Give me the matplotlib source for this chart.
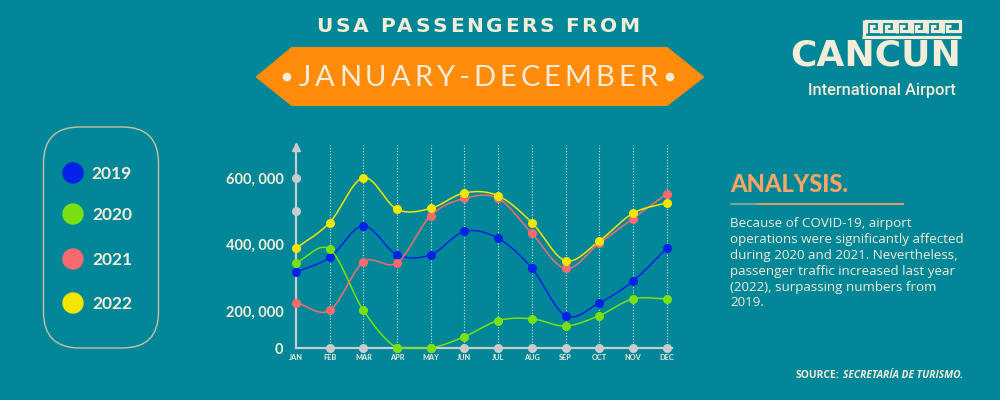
import numpy as np
import matplotlib
matplotlib.use("Agg")
import matplotlib.pyplot as plt
from matplotlib.patches import FancyBboxPatch, Polygon, Circle

# ---------------- data ----------------
months = ["JAN", "FEB", "MAR", "APR", "MAY", "JUN", "JUL", "AUG", "SEP", "OCT", "NOV", "DEC"]
years = ["2019", "2020", "2021", "2022"]
p2019 = [316000, 360000, 455000, 368000, 368000, 438000, 417000, 328000, 175000, 224000, 289000, 387000]
p2020 = [344000, 384000, 202000, 0, 0, 61000, 148000, 158000, 119000, 175000, 236000, 236000]
p2021 = [225000, 202000, 346000, 344000, 486000, 538000, 538000, 432000, 327000, 402000, 477000, 552000]
p2022 = [387000, 465000, 601000, 505000, 508000, 555000, 546000, 465000, 350000, 409000, 493000, 525000]
ytick_values = [0, 200000, 400000, 600000]
ytick_labels = ["0", "200, 000", "400, 000", "600, 000"]
axis_dot_values = [500000, 600000]

series = [p2019, p2020, p2021, p2022]
colors = ["#0522E6", "#79E012", "#F76B6E", "#F3E600"]

BG = "#018798"
CREAM = "#F3ECD8"
ORANGE = "#FF8B0B"
GREY = "#C9CCCC"

# piecewise scale used by the infographic's y axis
_kv = np.array([-1e6, 0, 200000, 400000, 600000, 2e6])
_kp = np.array([-185.0, 0.0, 37.0, 104.0, 170.0, 632.0])
def fwd(v):
    return np.interp(v, _kv, _kp)
def inv(p):
    return np.interp(p, _kp, _kv)

def catmull(xs, ys, n=30):
    xs = np.asarray(xs, float); ys = np.asarray(ys, float)
    P = np.column_stack([xs, ys])
    P = np.vstack([2 * P[0] - P[1], P, 2 * P[-1] - P[-2]])
    out = []
    for i in range(1, len(P) - 2):
        p0, p1, p2, p3 = P[i - 1], P[i], P[i + 1], P[i + 2]
        t = np.linspace(0, 1, n, endpoint=False)[:, None]
        seg = 0.5 * ((2 * p1) + (-p0 + p2) * t + (2 * p0 - 5 * p1 + 4 * p2 - p3) * t ** 2
                     + (-p0 + 3 * p1 - 3 * p2 + p3) * t ** 3)
        out.append(seg)
    out.append(P[-2][None, :])
    out = np.vstack(out)
    return out[:, 0], out[:, 1]

fig = plt.figure(figsize=(10, 4), dpi=100, facecolor=BG)

# overlay axes in pixel coordinates for decorations
ov = fig.add_axes([0, 0, 1, 1], zorder=0)
ov.set_xlim(0, 1000); ov.set_ylim(400, 0); ov.axis("off")
ov.set_facecolor(BG)

def spaced(ax, xc, y, s, sp, **kw):
    r = fig.canvas.get_renderer()
    fs = kw.get("fontsize", 10)
    ws = []
    objs = []
    for ch in s:
        if ch == " ":
            ws.append(fs * 100 / 72 * 0.3); objs.append(None); continue
        t = ax.text(0, y, ch, ha="left", va="center", zorder=5, **kw)
        bb = t.get_window_extent(r)
        ws.append(bb.width); objs.append(t)
    total = sum(ws) + sp * (len(s) - 1)
    x = xc - total / 2
    for w, t in zip(ws, objs):
        if t is not None:
            t.set_x(x)
        x += w + sp

# ---------- title ----------
spaced(ov, 478, 26, "USA PASSENGERS FROM", 2.6, fontsize=14.5, fontweight="heavy",
       family="DejaVu Sans", color=CREAM)

ban = Polygon([[257, 77], [292, 48], [667, 48], [703, 77], [667, 105], [292, 105]],
              closed=True, facecolor=ORANGE, edgecolor=ORANGE, lw=1.5, joinstyle="round",
              zorder=1)
ov.add_patch(ban)
spaced(ov, 478, 78, "JANUARY-DECEMBER", 4.0, fontsize=21, fontweight="normal",
       family="Lato", color=CREAM)
ov.add_patch(Circle((287, 77), 3.6, color=CREAM, zorder=5))
ov.add_patch(Circle((670, 77), 3.6, color=CREAM, zorder=5))

# ---------- logo ----------
lw_k = 2.3
ov.plot([862, 961], [36.5, 36.5], color=CREAM, lw=lw_k, solid_capstyle="butt")
ov.plot([863.5, 863.5], [20, 37], color=CREAM, lw=lw_k, solid_capstyle="butt")
for i in range(6):
    x0 = 866 + i * 15.3
    w = 12.5 if i < 5 else 17
    xs = [x0, x0, x0 + w, x0 + w, x0 + 4.5, x0 + 4.5, x0 + 8.5]
    ys = [33, 21, 21, 31, 31, 26, 26]
    ov.plot(xs, ys, color=CREAM, lw=lw_k, solid_joinstyle="miter", solid_capstyle="butt")
ov.text(876, 56, "CANCUN", fontsize=26, fontweight="bold", family="DejaVu Sans",
        color=CREAM, ha="center", va="center")
ov.text(882, 90, "International Airport", fontsize=11.8, fontweight="medium",
        family="Roboto", color=CREAM, ha="center", va="center")

# ---------- legend box ----------
ov.add_patch(FancyBboxPatch((43.5, 127), 115, 221, boxstyle="round,pad=0,rounding_size=36",
                            facecolor="none", edgecolor="#CDBFA3", lw=1.0))
leg_y = [173, 214, 259, 303]
for yy, lab, c in zip(leg_y, years, colors):
    ov.add_patch(Circle((73, yy), 10, color=c))
    ov.text(112, yy + 1, lab, fontsize=12.5, fontweight="bold", family="Lato",
            color=CREAM, ha="center", va="center")

# ---------- analysis ----------
ov.text(730, 185, "ANALYSIS.", fontsize=17, fontweight="black", family="Lato",
        color="#F6A563", ha="left", va="center")
ov.plot([731, 758], [204, 204], color="#8FA89A", lw=1.3)
ov.plot([758, 903], [204, 204], color="#F1A060", lw=1.3)
para = ["Because of COVID-19, airport",
        "operations were significantly affected",
        "during 2020 and 2021. Nevertheless,",
        "passenger traffic increased last year",
        "(2022), surpassing numbers from",
        "2019."]
for i, line in enumerate(para):
    ov.text(730, 223 + i * 16, line, fontsize=9.6, family="Open Sans",
            color=CREAM, ha="left", va="center")
ov.text(795, 375, "SOURCE:", fontsize=7.4, fontweight="bold", family="Open Sans",
        color=CREAM, ha="left", va="center")
ov.text(843, 375, "SECRETARÍA DE TURISMO.", fontsize=7.4, fontweight="bold",
        style="italic", family="Open Sans", color=CREAM, ha="left", va="center")

# ---------- main chart ----------
ax = fig.add_axes([0.296, 0.13, 0.379, 0.5075], zorder=2)
ax.set_facecolor("none")
ax.set_yscale("function", functions=(fwd, inv))
ax.set_xlim(0, 11.25)
ax.set_ylim(0, 700000)
for s in ["top", "right"]:
    ax.spines[s].set_visible(False)
for s in ["left", "bottom"]:
    ax.spines[s].set_color(GREY)
    ax.spines[s].set_linewidth(1.6)
    ax.spines[s].set_zorder(1)
ax.spines["bottom"].set_bounds(0, 11.15)
ax.plot([0], [695000], marker="^", ms=6, color=GREY, clip_on=False, zorder=1)

xi = np.arange(len(months))
ax.vlines(xi[1:], 0, 700000, colors="#D5DEDF", linestyles=(0, (1, 1.6)), lw=0.8, zorder=1)
ax.plot([0] * len(axis_dot_values), axis_dot_values, "o", ms=5.5, color=GREY,
        clip_on=False, zorder=2)
ax.plot(xi[1:], [0] * (len(months) - 1), "o", ms=5.5, color=GREY, clip_on=False, zorder=2)

for vals, c in zip(series, colors):
    sx, sy = catmull(xi, fwd(np.array(vals, float)))
    sy = np.maximum(sy, 0)
    ax.plot(sx, inv(sy), color=c, lw=1.1, zorder=3, clip_on=False)
    ax.plot(xi, vals, "o", ms=5.5, color=c, zorder=4, clip_on=False)

ax.set_xticks(xi)
ax.set_xticklabels(months)
ax.set_yticks(ytick_values)
ax.set_yticklabels(ytick_labels)
ax.yaxis.set_minor_locator(matplotlib.ticker.NullLocator())
ax.tick_params(axis="x", length=0, pad=4, labelsize=5.3, labelcolor=CREAM)
ax.tick_params(axis="y", length=0, pad=9, labelsize=10.5, labelcolor=CREAM)
for t in ax.get_xticklabels():
    t.set_fontweight("bold"); t.set_family("Lato")
for t in ax.get_yticklabels():
    t.set_fontweight("bold"); t.set_family("Lato")

fig.savefig("out.png", dpi=100, facecolor=BG)
